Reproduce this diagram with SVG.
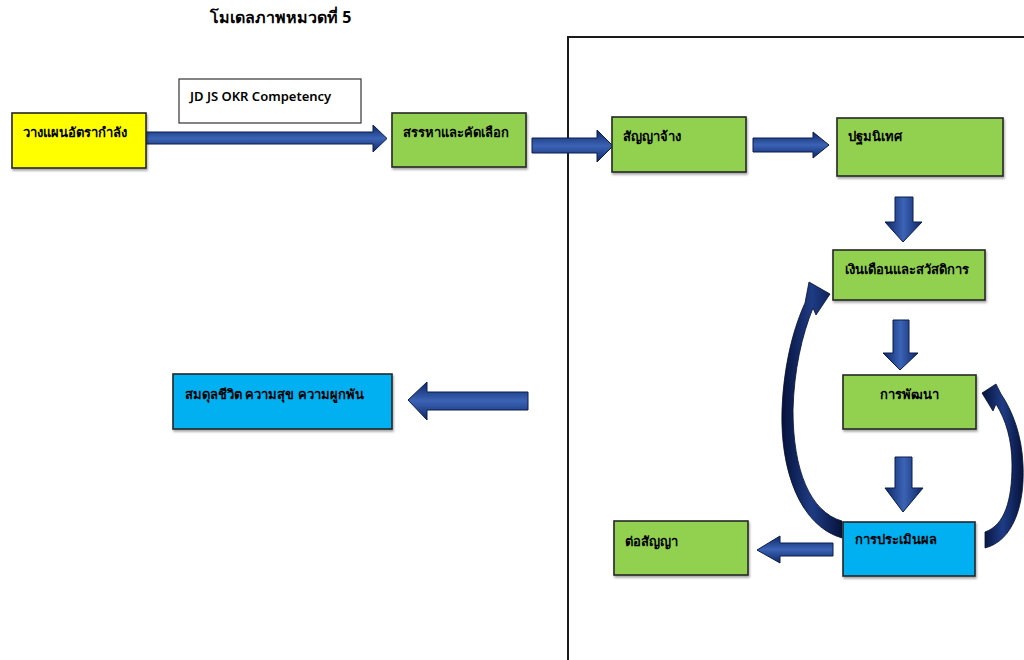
<svg xmlns="http://www.w3.org/2000/svg" width="1024" height="660" viewBox="0 0 1024 660">
<defs>
<linearGradient id="gh" x1="0" y1="0" x2="0" y2="1">
<stop offset="0" stop-color="#0E2766"/><stop offset="0.5" stop-color="#3B63B5"/><stop offset="1" stop-color="#0E2766"/>
</linearGradient>
<linearGradient id="gv" x1="0" y1="0" x2="1" y2="0">
<stop offset="0" stop-color="#0E2766"/><stop offset="0.5" stop-color="#3B63B5"/><stop offset="1" stop-color="#0E2766"/>
</linearGradient>
<linearGradient id="gc" x1="0" y1="0" x2="1" y2="0">
<stop offset="0" stop-color="#06123A"/><stop offset="0.5" stop-color="#1E3C85"/><stop offset="1" stop-color="#06123A"/>
</linearGradient>
<filter id="sh" x="-10%" y="-10%" width="120%" height="130%">
<feDropShadow dx="1" dy="2" stdDeviation="1.2" flood-color="#000" flood-opacity="0.35"/>
</filter>
</defs>
<style>
.box{stroke:#262626;stroke-width:1.6;filter:url(#sh)}
.g{fill:#92D050}
.y{fill:#FFFF00}
.b{fill:#00B0F0}
.w{fill:#FFFFFF;stroke:#333;stroke-width:1.2}
.t{font-family:"Noto Sans","Liberation Sans",sans-serif;font-size:13px;font-weight:600;fill:#000}
.ti{font-family:"Noto Sans","Liberation Sans",sans-serif;font-size:16px;font-weight:bold;fill:#000}
.ah{fill:url(#gh);stroke:#0A1C4C;stroke-width:1}
.av{fill:url(#gv);stroke:#0A1C4C;stroke-width:1}
.ac{fill:url(#gc);stroke:#050F30;stroke-width:0.8}
.frame{fill:none;stroke:#1a1a1a;stroke-width:2}
</style>
<rect width="1024" height="660" fill="#FFFFFF"/>
<text class="ti" x="210" y="23">โมเดลภาพหมวดที่ 5</text>
<path class="frame" d="M568,660 L568,37 L1026,37"/>

<g id="connectors">
<path class="ah" d="M146,132 L373,132 L373,125 L387,138.5 L373,152 L373,144 L146,144 Z"/>
<path class="ah" d="M532,138 L597,138 L597,130 L613,146 L597,162 L597,153 L532,153 Z"/>
<path class="ah" d="M753,138 L813,138 L813,132 L829,145 L813,158 L813,152 L753,152 Z"/>
<path class="av" d="M895,197 L913,197 L913,222 L922,222 L903,242 L885,222 L895,222 Z"/>
<path class="av" d="M893,320 L909,320 L909,353 L918,353 L900,370 L883,353 L893,353 Z"/>
<path class="av" d="M895,457 L912,457 L912,488 L923,488 L903,512 L885,488 L895,488 Z"/>
<path class="ah" d="M833,543 L780,543 L780,536 L757,550 L780,563 L780,556 L833,556 Z"/>
<path class="ah" d="M528,392 L427,392 L427,382 L408,400 L427,420 L427,410 L528,410 Z"/>
<path class="ac" d="M842,538 C800,526 780,470 782,410 C784,360 795,325 805,303 L809,282 L830,294 L816,315 L813,308 C802,335 794,370 793,410 C793,470 810,512 842,521 Z"/>
<path class="ac" d="M985,548 C1013,541 1025,505 1023,465 C1022,435 1012,410 1001,394 L996,384 L982,393 L993,411 L996,404 C1006,420 1012,440 1012,465 C1012,500 1005,525 985,532 Z"/>
</g>

<g id="n-plan"><rect class="box y" x="12" y="113" width="134" height="55"/><text class="t" x="23" y="137">วางแผนอัตรากำลัง</text></g>
<g id="n-jd"><rect class="w" x="179" y="79" width="182" height="44"/><text class="t" x="190" y="101">JD JS OKR Competency</text></g>
<g id="n-recruit"><rect class="box g" x="392" y="113" width="134" height="54"/><text class="t" x="403" y="137">สรรหาและคัดเลือก</text></g>
<g id="n-contract"><rect class="box g" x="612" y="117" width="134" height="55"/><text class="t" x="623" y="141">สัญญาจ้าง</text></g>
<g id="n-orient"><rect class="box g" x="837" y="118" width="166" height="58"/><text class="t" x="848" y="141">ปฐมนิเทศ</text></g>
<g id="n-salary"><rect class="box g" x="833" y="250" width="152" height="50"/><text class="t" x="845" y="274">เงินเดือนและสวัสดิการ</text></g>
<g id="n-develop"><rect class="box g" x="843" y="375" width="133" height="54"/><text class="t" x="909" y="399" text-anchor="middle">การพัฒนา</text></g>
<g id="n-eval"><rect class="box b" x="843" y="522" width="132" height="54"/><text class="t" x="855" y="544">การประเมินผล</text></g>
<g id="n-renew"><rect class="box g" x="614" y="521" width="134" height="54"/><text class="t" x="625" y="546">ต่อสัญญา</text></g>
<g id="n-balance"><rect class="box b" x="173" y="374" width="219" height="55"/><text class="t" x="185" y="399">สมดุลชีวิต ความสุข ความผูกพัน</text></g>
</svg>
